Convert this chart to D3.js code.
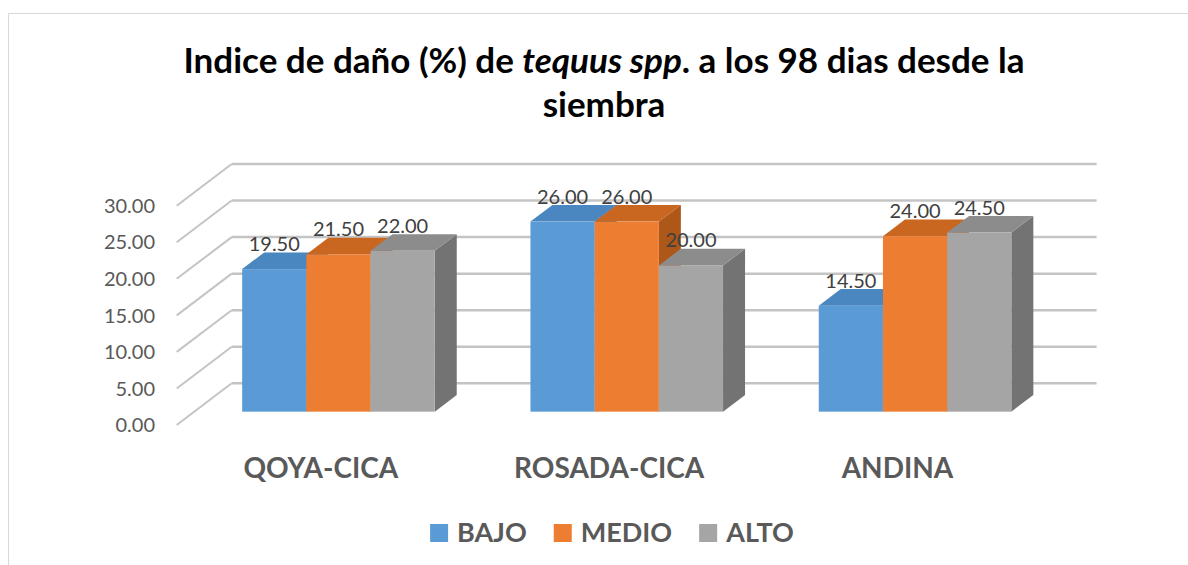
<html lang="es">
<head>
<meta charset="utf-8">
<title>Indice de daño</title>
<script src="https://cdn.jsdelivr.net/npm/d3@7"></script>
<style>
    body { margin: 0; background: #fff; }
    text { font-family: Lato, "Open Sans", sans-serif; }
</style>
</head>
<body>
<script>
    // data
    var categories = ["QOYA-CICA", "ROSADA-CICA", "ANDINA"];
    var seriesNames = ["BAJO", "MEDIO", "ALTO"];
    var bajo = [19.5, 26.0, 14.5];
    var medio = [21.5, 26.0, 24.0];
    var alto = [22.0, 20.0, 24.5];
    var yTicks = [0, 5, 10, 15, 20, 25, 30];

    var seriesValues = [bajo, medio, alto];
    var colors = {
        front: ["#5B9BD5", "#ED7D31", "#A5A5A5"],
        top:   ["#4A86BF", "#C9661F", "#8C8C8C"],
        side:  ["#3F72A1", "#AD5719", "#737373"]
    };

    var w = 1188, h = 565;
    var depthX = 55, depthY = -41.7;   // full depth offset of the 3d box
    var barZ0 = 0.32, barZ1 = 0.72;    // bars sit in the middle of the depth

    var svg = d3.select("body").append("svg")
        .attr("width", w)
        .attr("height", h);

    // chart border
    svg.append("rect")
        .attr("x", 8.5).attr("y", 13.5)
        .attr("width", 1300).attr("height", 700)
        .attr("fill", "none")
        .attr("stroke", "#D9D9D9");

    var xScale = d3.scaleBand()
        .domain(categories)
        .range([176.7, 1041.6])
        .paddingInner(0.332)
        .paddingOuter(0.166);

    var xInner = d3.scaleBand()
        .domain(seriesNames)
        .range([0, xScale.bandwidth()]);

    var yScale = d3.scaleLinear()
        .domain([0, 30])
        .range([425, 205.7]);

    function px(x, z) { return x + z * depthX; }
    function py(v, z) { return yScale(v) + z * depthY; }

    // title
    var title = svg.append("text")
        .attr("text-anchor", "middle")
        .attr("font-weight", "bold")
        .attr("font-size", "35px")
        .attr("fill", "#000");
    var line1 = title.append("tspan").attr("x", 604).attr("y", 73);
    line1.append("tspan").text("Indice de daño (%) de ");
    line1.append("tspan").attr("font-style", "italic").text("tequus spp");
    line1.append("tspan").text(". a los 98 dias desde la");
    title.append("tspan").attr("x", 604).attr("y", 117).text("siembra");

    // gridlines: back wall + left wall
    var grid = svg.append("g");
    grid.selectAll("line.back")
        .data(yTicks)
        .enter()
        .append("line")
        .attr("class", "back")
        .attr("x1", px(xScale.range()[0], 1))
        .attr("x2", px(xScale.range()[1], 1))
        .attr("y1", function(d) { return py(d, 1); })
        .attr("y2", function(d) { return py(d, 1); })
        .attr("stroke", "#C4C4C4")
        .attr("stroke-width", 2.5);

    grid.selectAll("line.side")
        .data(yTicks)
        .enter()
        .append("line")
        .attr("class", "side")
        .attr("x1", px(xScale.range()[0], 0))
        .attr("x2", px(xScale.range()[0], 1))
        .attr("y1", function(d) { return py(d, 0); })
        .attr("y2", function(d) { return py(d, 1); })
        .attr("stroke", "#C4C4C4")
        .attr("stroke-width", 2);

    // y axis labels
    svg.selectAll("text.ylab")
        .data(yTicks)
        .enter()
        .append("text")
        .attr("class", "ylab")
        .attr("x", 155)
        .attr("y", function(d) { return py(d, 0); })
        .attr("dy", "0.36em")
        .attr("text-anchor", "end")
        .attr("font-size", "20px")
        .attr("fill", "#595959")
        .text(function(d) { return d.toFixed(2); });

    // bars
    var bars = [];
    categories.forEach(function(c, ci) {
        seriesNames.forEach(function(s, si) {
            bars.push({cat: c, ser: s, si: si, value: seriesValues[si][ci]});
        });
    });

    function pts(list) {
        return list.map(function(p) { return p[0] + "," + p[1]; }).join(" ");
    }

    var barG = svg.selectAll("g.bar")
        .data(bars)
        .enter()
        .append("g")
        .attr("class", "bar");

    barG.each(function(d) {
        var g = d3.select(this);
        var x0 = xScale(d.cat) + xInner(d.ser);
        var x1 = x0 + xInner.bandwidth();
        var v = d.value;
        // side face
        g.append("polygon")
            .attr("points", pts([
                [px(x1, barZ0), py(0, barZ0)], [px(x1, barZ1), py(0, barZ1)],
                [px(x1, barZ1), py(v, barZ1)], [px(x1, barZ0), py(v, barZ0)]
            ]))
            .attr("fill", colors.side[d.si]);
        // top face
        g.append("polygon")
            .attr("points", pts([
                [px(x0, barZ0), py(v, barZ0)], [px(x1, barZ0), py(v, barZ0)],
                [px(x1, barZ1), py(v, barZ1)], [px(x0, barZ1), py(v, barZ1)]
            ]))
            .attr("fill", colors.top[d.si]);
        // front face
        g.append("rect")
            .attr("x", px(x0, barZ0))
            .attr("y", py(v, barZ0))
            .attr("width", x1 - x0)
            .attr("height", py(0, barZ0) - py(v, barZ0))
            .attr("fill", colors.front[d.si]);
    });

    // data labels
    svg.selectAll("text.vlab")
        .data(bars)
        .enter()
        .append("text")
        .attr("class", "vlab")
        .attr("x", function(d) {
            return px(xScale(d.cat) + xInner(d.ser) + xInner.bandwidth() / 2, barZ0);
        })
        .attr("y", function(d) { return py(d.value, barZ0) - 18; })
        .attr("text-anchor", "middle")
        .attr("font-size", "20px")
        .attr("fill", "#404040")
        .text(function(d) { return d.value.toFixed(2); });

    // category labels
    svg.selectAll("text.xlab")
        .data(categories)
        .enter()
        .append("text")
        .attr("class", "xlab")
        .attr("x", function(d) { return xScale(d) + xScale.bandwidth() / 2; })
        .attr("y", 478)
        .attr("text-anchor", "middle")
        .attr("font-size", "28px")
        .attr("font-weight", "bold")
        .attr("fill", "#595959")
        .text(function(d) { return d; });

    // legend
    var legend = svg.append("g");
    var lx = 0;
    seriesNames.forEach(function(s, i) {
        legend.append("rect")
            .attr("x", lx).attr("y", 524)
            .attr("width", 18).attr("height", 18)
            .attr("fill", colors.front[i]);
        var t = legend.append("text")
            .attr("x", lx + 27).attr("y", 542)
            .attr("font-size", "27px")
            .attr("font-weight", "bold")
            .attr("fill", "#595959")
            .text(s);
        lx += 27 + t.node().getComputedTextLength() + 27;
    });
    lx -= 27;
    legend.attr("transform", "translate(" + (612 - lx / 2) + ",0)");
</script>
</body>
</html>
